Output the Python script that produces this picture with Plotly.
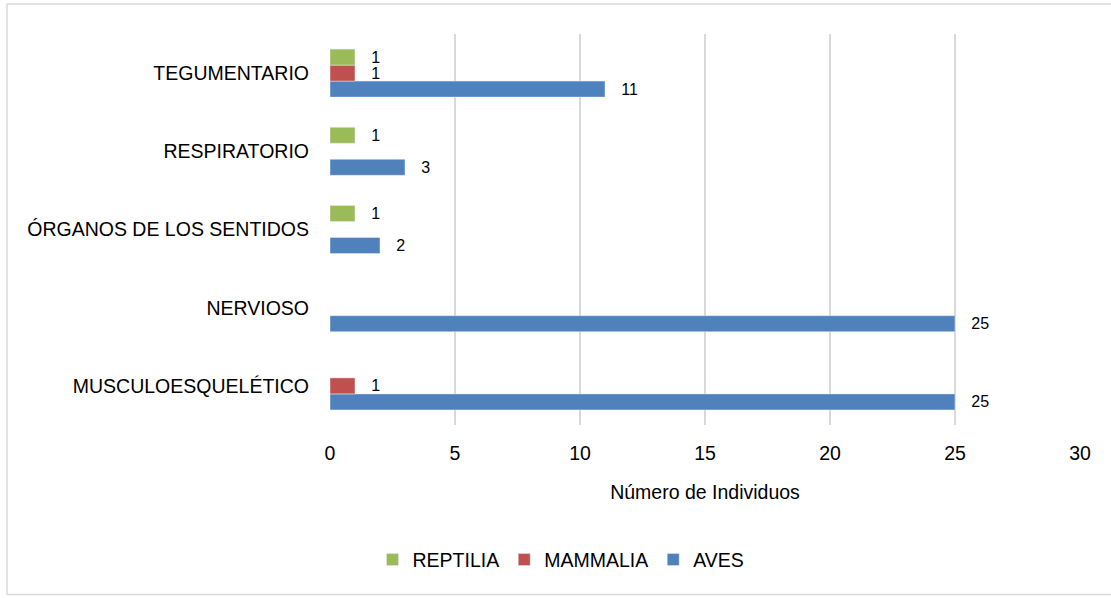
import plotly.graph_objects as go

categories = ["MUSCULOESQUELÉTICO", "NERVIOSO", "ÓRGANOS DE LOS SENTIDOS",
              "RESPIRATORIO", "TEGUMENTARIO"]
aves = [25, 25, 2, 3, 11]
mammalia = [1, None, None, None, 1]
reptilia = [None, None, 1, 1, 1]

FONT = "Liberation Sans Narrow, Arial Narrow, Liberation Sans, Arial, sans-serif"
FS = 19.5

fig = go.Figure()

for name, vals, color in [("AVES", aves, "#4F81BD"),
                          ("MAMMALIA", mammalia, "#C0504D"),
                          ("REPTILIA", reptilia, "#9BBB59")]:
    fig.add_trace(go.Bar(
        y=categories,
        x=vals,
        name=name,
        orientation="h",
        marker=dict(color=color),
        text=[("" if v is None else "   " + str(v)) for v in vals],
        textposition="outside",
        constraintext="none",
        textfont=dict(size=16, color="#000000", family=FONT),
        cliponaxis=False,
    ))

fig.update_layout(
    width=1111,
    height=598,
    barmode="group",
    bargap=0.386,
    bargroupgap=0,
    plot_bgcolor="white",
    paper_bgcolor="white",
    font=dict(family=FONT, size=FS, color="#000000"),
    margin=dict(l=330, r=31, t=34, b=173),
    showlegend=True,
    legend=dict(
        orientation="h",
        traceorder="reversed",
        x=0.308,
        xanchor="center",
        y=-0.345,
        yanchor="middle",
        font=dict(size=FS),
        itemwidth=30,
    ),
    xaxis=dict(
        range=[0, 30],
        dtick=5,
        showgrid=True,
        gridcolor="#D9D9D9",
        gridwidth=1.5,
        zeroline=False,
        showline=False,
        ticks="",
        automargin=False,
        ticklabelstandoff=14,
        title=dict(text="Número de Individuos", font=dict(size=FS), standoff=22),
    ),
    yaxis=dict(
        categoryorder="array",
        categoryarray=categories,
        showgrid=False,
        zeroline=False,
        showline=False,
        ticks="",
        automargin=False,
        ticklabelstandoff=20,
    ),
    shapes=[
        dict(type="line", xref="paper", yref="paper",
             x0=-0.4307, x1=1.05, y0=1.0767, y1=1.0767,
             line=dict(color="#D9D9D9", width=1.5)),
        dict(type="line", xref="paper", yref="paper",
             x0=-0.4307, x1=1.05, y0=-0.4335, y1=-0.4335,
             line=dict(color="#D9D9D9", width=1.5)),
        dict(type="line", xref="paper", yref="paper",
             x0=-0.4307, x1=-0.4307, y0=-0.4335, y1=1.0767,
             line=dict(color="#D9D9D9", width=1.5)),
    ],
)

fig.write_html("out.html", config={"displayModeBar": False},
               post_script="document.body.style.margin='0';")
